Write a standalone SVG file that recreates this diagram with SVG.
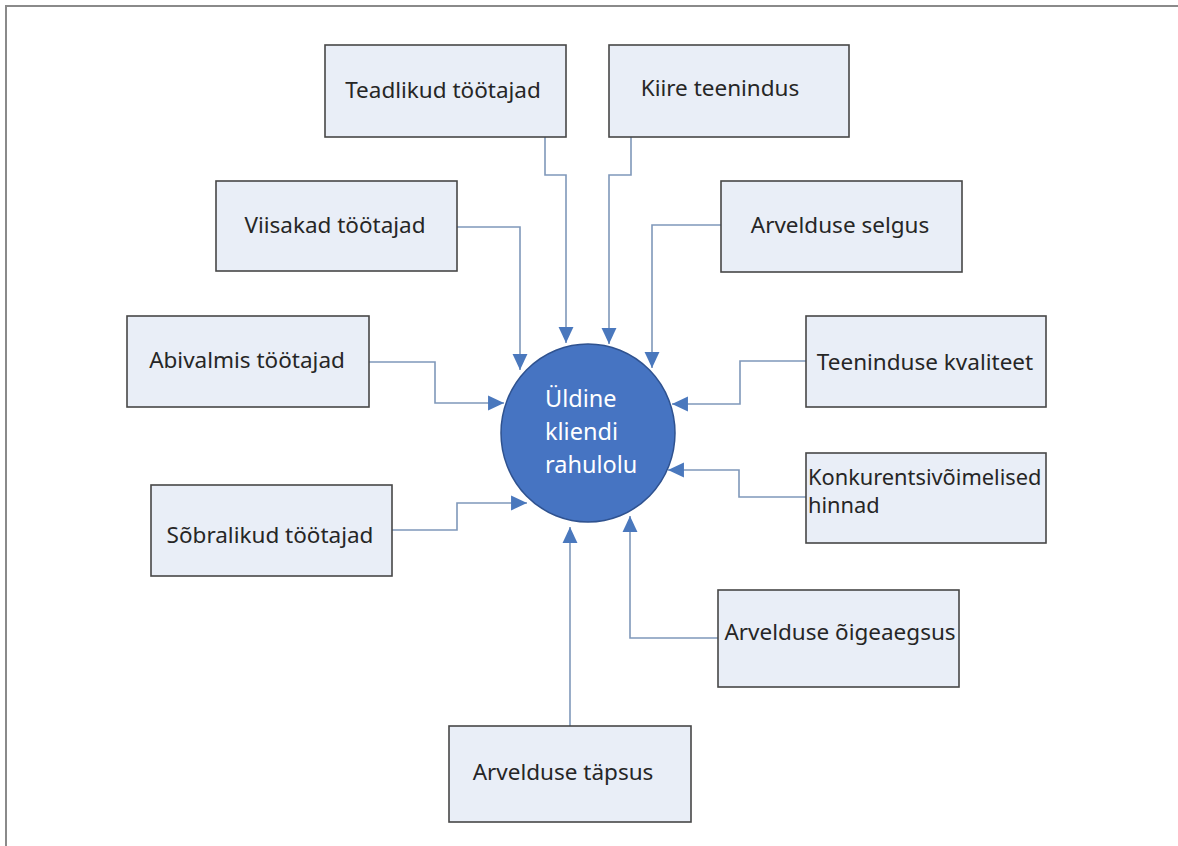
<svg xmlns="http://www.w3.org/2000/svg" width="1178" height="846" viewBox="0 0 1178 846">
<style>
.box{fill:#e9eef7;stroke:#474747;stroke-width:1.6}
.t{font-family:"Noto Sans","Open Sans",sans-serif;font-size:22.5px;fill:#262626}
.c{text-anchor:middle}
.conn{fill:none;stroke:#7f98ba;stroke-width:1.6}
.ct{font-family:"Noto Sans","Open Sans",sans-serif;font-size:23.5px;fill:#ffffff}
</style>
<defs>
<marker id="ah" markerUnits="userSpaceOnUse" markerWidth="17" markerHeight="17" viewBox="0 0 16 16" refX="15" refY="8" orient="auto">
<path d="M0,1 L15,8 L0,15 Z" fill="#4a78bd"/>
</marker>
</defs>
<rect x="0" y="0" width="1178" height="846" fill="#ffffff"/>
<path d="M6,846 V6 H1178" fill="none" stroke="#8a8a8a" stroke-width="2"/>
<g id="connectors">
<path class="conn" d="M545,137 V175 H566 V343" marker-end="url(#ah)"/>
<path class="conn" d="M631,137 V175 H609 V344" marker-end="url(#ah)"/>
<path class="conn" d="M457,227 H520 V370" marker-end="url(#ah)"/>
<path class="conn" d="M721,225 H652 V368" marker-end="url(#ah)"/>
<path class="conn" d="M369,362 H435 V403 H504" marker-end="url(#ah)"/>
<path class="conn" d="M806,361 H740 V404 H672" marker-end="url(#ah)"/>
<path class="conn" d="M806,497 H739 V470 H668" marker-end="url(#ah)"/>
<path class="conn" d="M392,530 H457 V503 H527" marker-end="url(#ah)"/>
<path class="conn" d="M718,638 H630 V516" marker-end="url(#ah)"/>
<path class="conn" d="M570,726 V527" marker-end="url(#ah)"/>
</g>
<g id="center">
<ellipse cx="588" cy="433" rx="87" ry="89" fill="#4674c2" stroke="#2f528f" stroke-width="1.5"/>
<text class="ct" x="545" y="407">Üldine</text>
<text class="ct" x="545" y="440">kliendi</text>
<text class="ct" x="545" y="473">rahulolu</text>
</g>
<g id="teadlikud">
<rect class="box" x="325" y="45" width="241" height="92"/>
<text class="t c" x="443" y="98">Teadlikud töötajad</text>
</g>
<g id="kiire">
<rect class="box" x="609" y="45" width="240" height="92"/>
<text class="t c" x="720" y="96">Kiire teenindus</text>
</g>
<g id="viisakad">
<rect class="box" x="216" y="181" width="241" height="90"/>
<text class="t c" x="335" y="233">Viisakad töötajad</text>
</g>
<g id="selgus">
<rect class="box" x="721" y="181" width="241" height="91"/>
<text class="t c" x="840" y="233">Arvelduse selgus</text>
</g>
<g id="abivalmis">
<rect class="box" x="127" y="316" width="242" height="91"/>
<text class="t c" x="247" y="368">Abivalmis töötajad</text>
</g>
<g id="kvaliteet">
<rect class="box" x="806" y="316" width="240" height="91"/>
<text class="t c" x="925" y="370">Teeninduse kvaliteet</text>
</g>
<g id="hinnad">
<rect class="box" x="806" y="453" width="240" height="90"/>
<text class="t" x="808" y="485" style="font-size:21.8px">Konkurentsivõimelised</text>
<text class="t" x="808" y="513" style="font-size:21.8px">hinnad</text>
</g>
<g id="sobralikud">
<rect class="box" x="151" y="485" width="241" height="91"/>
<text class="t c" x="270" y="543">Sõbralikud töötajad</text>
</g>
<g id="oigeaegsus">
<rect class="box" x="718" y="590" width="241" height="97"/>
<text class="t c" x="840" y="640">Arvelduse õigeaegsus</text>
</g>
<g id="tapsus">
<rect class="box" x="449" y="726" width="242" height="96"/>
<text class="t c" x="563" y="780">Arvelduse täpsus</text>
</g>
</svg>
